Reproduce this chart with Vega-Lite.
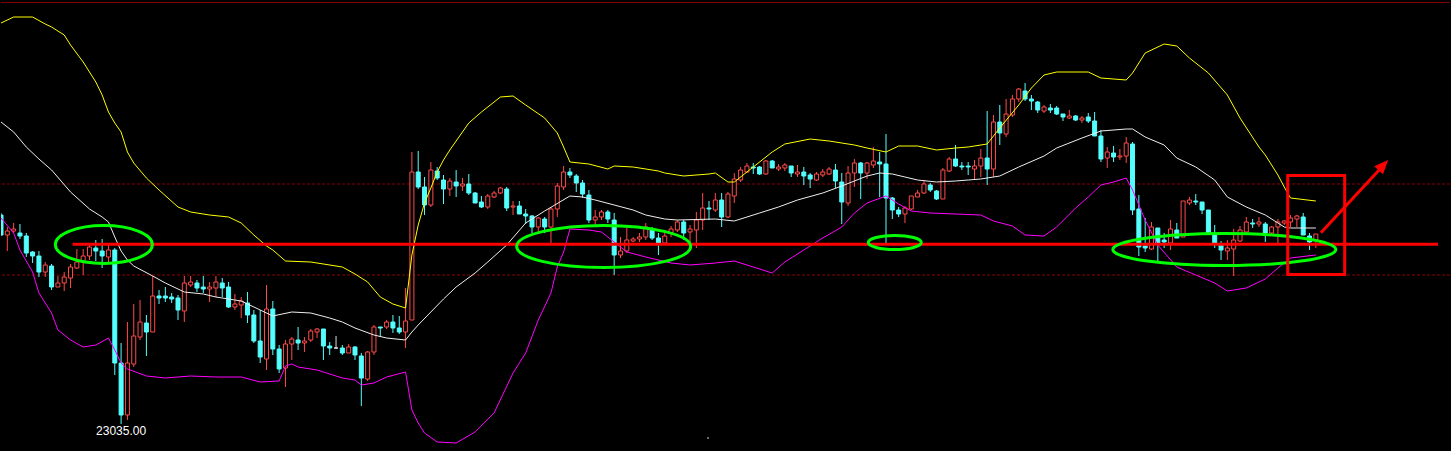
{
"$schema":"https://vega.github.io/schema/vega-lite/v6.json",
"width":1451,"height":451,
"autosize":{"type":"fit","contains":"padding"},
"padding":0,
"background":"#000000",
"config":{"view":{"stroke":null},"axis":{"disable":true},"scale":{"continuousPadding":0}},
"datasets":{
"candles":[
{"i":0,"o":23244,"h":23246,"l":23223,"c":23224,"d":"down"},
{"i":1,"o":23224,"h":23232,"l":23208,"c":23228,"d":"up"},
{"i":2,"o":23228,"h":23236,"l":23226,"c":23230,"d":"up"},
{"i":3,"o":23226,"h":23235,"l":23220,"c":23223,"d":"down"},
{"i":4,"o":23223,"h":23226,"l":23202,"c":23206,"d":"down"},
{"i":5,"o":23207,"h":23208,"l":23196,"c":23203,"d":"down"},
{"i":6,"o":23203,"h":23208,"l":23182,"c":23187,"d":"down"},
{"i":7,"o":23187,"h":23197,"l":23182,"c":23194,"d":"up"},
{"i":8,"o":23193,"h":23195,"l":23169,"c":23172,"d":"down"},
{"i":9,"o":23172,"h":23183,"l":23172,"c":23176,"d":"up"},
{"i":10,"o":23176,"h":23187,"l":23168,"c":23182,"d":"up"},
{"i":11,"o":23181,"h":23195,"l":23171,"c":23192,"d":"up"},
{"i":12,"o":23191,"h":23210,"l":23190,"c":23197,"d":"up"},
{"i":13,"o":23197,"h":23210,"l":23184,"c":23203,"d":"up"},
{"i":14,"o":23203,"h":23215,"l":23199,"c":23212,"d":"up"},
{"i":15,"o":23211,"h":23219,"l":23198,"c":23208,"d":"down"},
{"i":16,"o":23208,"h":23220,"l":23191,"c":23203,"d":"down"},
{"i":17,"o":23202,"h":23214,"l":23196,"c":23209,"d":"up"},
{"i":18,"o":23209,"h":23211,"l":23084,"c":23096,"d":"down"},
{"i":19,"o":23096,"h":23116,"l":23035,"c":23044,"d":"down"},
{"i":20,"o":23044,"h":23137,"l":23039,"c":23096,"d":"up"},
{"i":21,"o":23095,"h":23155,"l":23092,"c":23123,"d":"up"},
{"i":22,"o":23122,"h":23159,"l":23119,"c":23137,"d":"up"},
{"i":23,"o":23136,"h":23144,"l":23103,"c":23127,"d":"down"},
{"i":24,"o":23127,"h":23183,"l":23127,"c":23163,"d":"up"},
{"i":25,"o":23163,"h":23169,"l":23155,"c":23161,"d":"down"},
{"i":26,"o":23163,"h":23172,"l":23157,"c":23161,"d":"down"},
{"i":27,"o":23162,"h":23166,"l":23156,"c":23160,"d":"down"},
{"i":28,"o":23161,"h":23164,"l":23139,"c":23149,"d":"down"},
{"i":29,"o":23148,"h":23183,"l":23137,"c":23176,"d":"up"},
{"i":30,"o":23174,"h":23183,"l":23172,"c":23177,"d":"up"},
{"i":31,"o":23176,"h":23179,"l":23167,"c":23171,"d":"down"},
{"i":32,"o":23172,"h":23183,"l":23166,"c":23170,"d":"down"},
{"i":33,"o":23170,"h":23177,"l":23157,"c":23172,"d":"up"},
{"i":34,"o":23171,"h":23183,"l":23162,"c":23177,"d":"up"},
{"i":35,"o":23176,"h":23181,"l":23162,"c":23171,"d":"down"},
{"i":36,"o":23172,"h":23177,"l":23151,"c":23152,"d":"down"},
{"i":37,"o":23152,"h":23165,"l":23149,"c":23155,"d":"up"},
{"i":38,"o":23154,"h":23162,"l":23141,"c":23158,"d":"up"},
{"i":39,"o":23156,"h":23167,"l":23136,"c":23144,"d":"down"},
{"i":40,"o":23144,"h":23149,"l":23116,"c":23118,"d":"down"},
{"i":41,"o":23118,"h":23149,"l":23096,"c":23102,"d":"down"},
{"i":42,"o":23100,"h":23174,"l":23089,"c":23150,"d":"up"},
{"i":43,"o":23150,"h":23158,"l":23104,"c":23110,"d":"down"},
{"i":44,"o":23110,"h":23114,"l":23086,"c":23090,"d":"down"},
{"i":45,"o":23091,"h":23119,"l":23072,"c":23115,"d":"up"},
{"i":46,"o":23115,"h":23122,"l":23099,"c":23120,"d":"up"},
{"i":47,"o":23119,"h":23132,"l":23109,"c":23116,"d":"down"},
{"i":48,"o":23116,"h":23122,"l":23107,"c":23118,"d":"up"},
{"i":49,"o":23119,"h":23130,"l":23117,"c":23128,"d":"up"},
{"i":50,"o":23127,"h":23131,"l":23121,"c":23130,"d":"up"},
{"i":51,"o":23130,"h":23130,"l":23099,"c":23113,"d":"down"},
{"i":52,"o":23113,"h":23117,"l":23104,"c":23111,"d":"down"},
{"i":53,"o":23111,"h":23123,"l":23110,"c":23111,"d":"flat"},
{"i":54,"o":23111,"h":23114,"l":23104,"c":23106,"d":"down"},
{"i":55,"o":23106,"h":23115,"l":23106,"c":23112,"d":"up"},
{"i":56,"o":23112,"h":23113,"l":23099,"c":23104,"d":"down"},
{"i":57,"o":23103,"h":23106,"l":23053,"c":23081,"d":"down"},
{"i":58,"o":23080,"h":23108,"l":23078,"c":23107,"d":"up"},
{"i":59,"o":23107,"h":23134,"l":23104,"c":23132,"d":"up"},
{"i":60,"o":23132,"h":23132,"l":23122,"c":23131,"d":"down"},
{"i":61,"o":23132,"h":23139,"l":23130,"c":23137,"d":"up"},
{"i":62,"o":23137,"h":23144,"l":23126,"c":23131,"d":"down"},
{"i":63,"o":23131,"h":23143,"l":23125,"c":23127,"d":"down"},
{"i":64,"o":23127,"h":23171,"l":23111,"c":23138,"d":"up"},
{"i":65,"o":23139,"h":23307,"l":23139,"c":23287,"d":"up"},
{"i":66,"o":23287,"h":23308,"l":23270,"c":23272,"d":"down"},
{"i":67,"o":23272,"h":23282,"l":23244,"c":23254,"d":"down"},
{"i":68,"o":23254,"h":23297,"l":23252,"c":23289,"d":"up"},
{"i":69,"o":23288,"h":23292,"l":23279,"c":23281,"d":"down"},
{"i":70,"o":23279,"h":23284,"l":23255,"c":23270,"d":"down"},
{"i":71,"o":23270,"h":23281,"l":23263,"c":23278,"d":"up"},
{"i":72,"o":23277,"h":23289,"l":23262,"c":23273,"d":"down"},
{"i":73,"o":23273,"h":23281,"l":23268,"c":23275,"d":"up"},
{"i":74,"o":23275,"h":23285,"l":23264,"c":23266,"d":"down"},
{"i":75,"o":23266,"h":23267,"l":23256,"c":23256,"d":"down"},
{"i":76,"o":23257,"h":23263,"l":23251,"c":23252,"d":"down"},
{"i":77,"o":23252,"h":23265,"l":23250,"c":23263,"d":"up"},
{"i":78,"o":23262,"h":23268,"l":23261,"c":23266,"d":"up"},
{"i":79,"o":23266,"h":23272,"l":23265,"c":23271,"d":"up"},
{"i":80,"o":23270,"h":23272,"l":23248,"c":23251,"d":"down"},
{"i":81,"o":23252,"h":23258,"l":23244,"c":23253,"d":"up"},
{"i":82,"o":23253,"h":23258,"l":23245,"c":23245,"d":"down"},
{"i":83,"o":23245,"h":23250,"l":23235,"c":23243,"d":"down"},
{"i":84,"o":23243,"h":23244,"l":23226,"c":23232,"d":"down"},
{"i":85,"o":23232,"h":23242,"l":23227,"c":23241,"d":"up"},
{"i":86,"o":23240,"h":23242,"l":23226,"c":23232,"d":"down"},
{"i":87,"o":23232,"h":23252,"l":23216,"c":23250,"d":"up"},
{"i":88,"o":23250,"h":23276,"l":23242,"c":23273,"d":"up"},
{"i":89,"o":23272,"h":23293,"l":23269,"c":23287,"d":"up"},
{"i":90,"o":23287,"h":23291,"l":23281,"c":23284,"d":"down"},
{"i":91,"o":23283,"h":23285,"l":23267,"c":23276,"d":"down"},
{"i":92,"o":23276,"h":23279,"l":23261,"c":23265,"d":"down"},
{"i":93,"o":23264,"h":23269,"l":23236,"c":23239,"d":"down"},
{"i":94,"o":23239,"h":23249,"l":23232,"c":23242,"d":"up"},
{"i":95,"o":23242,"h":23249,"l":23239,"c":23247,"d":"up"},
{"i":96,"o":23247,"h":23249,"l":23236,"c":23240,"d":"down"},
{"i":97,"o":23239,"h":23246,"l":23184,"c":23204,"d":"down"},
{"i":98,"o":23204,"h":23222,"l":23201,"c":23208,"d":"up"},
{"i":99,"o":23208,"h":23231,"l":23206,"c":23219,"d":"up"},
{"i":100,"o":23218,"h":23222,"l":23217,"c":23220,"d":"up"},
{"i":101,"o":23220,"h":23226,"l":23217,"c":23222,"d":"up"},
{"i":102,"o":23222,"h":23236,"l":23219,"c":23232,"d":"up"},
{"i":103,"o":23230,"h":23232,"l":23219,"c":23221,"d":"down"},
{"i":104,"o":23221,"h":23226,"l":23204,"c":23216,"d":"down"},
{"i":105,"o":23216,"h":23229,"l":23215,"c":23223,"d":"up"},
{"i":106,"o":23226,"h":23233,"l":23222,"c":23230,"d":"up"},
{"i":107,"o":23229,"h":23239,"l":23227,"c":23237,"d":"up"},
{"i":108,"o":23237,"h":23239,"l":23219,"c":23226,"d":"down"},
{"i":109,"o":23227,"h":23234,"l":23216,"c":23230,"d":"up"},
{"i":110,"o":23229,"h":23247,"l":23211,"c":23239,"d":"up"},
{"i":111,"o":23239,"h":23266,"l":23229,"c":23251,"d":"up"},
{"i":112,"o":23251,"h":23258,"l":23239,"c":23250,"d":"down"},
{"i":113,"o":23249,"h":23266,"l":23247,"c":23259,"d":"up"},
{"i":114,"o":23259,"h":23266,"l":23232,"c":23242,"d":"down"},
{"i":115,"o":23242,"h":23267,"l":23241,"c":23265,"d":"up"},
{"i":116,"o":23263,"h":23286,"l":23256,"c":23280,"d":"up"},
{"i":117,"o":23279,"h":23292,"l":23277,"c":23289,"d":"up"},
{"i":118,"o":23287,"h":23296,"l":23286,"c":23293,"d":"up"},
{"i":119,"o":23292,"h":23296,"l":23285,"c":23291,"d":"down"},
{"i":120,"o":23292,"h":23293,"l":23284,"c":23285,"d":"down"},
{"i":121,"o":23285,"h":23299,"l":23284,"c":23298,"d":"up"},
{"i":122,"o":23298,"h":23299,"l":23291,"c":23291,"d":"down"},
{"i":123,"o":23290,"h":23295,"l":23288,"c":23292,"d":"up"},
{"i":124,"o":23291,"h":23296,"l":23288,"c":23294,"d":"up"},
{"i":125,"o":23293,"h":23293,"l":23282,"c":23286,"d":"down"},
{"i":126,"o":23285,"h":23294,"l":23282,"c":23287,"d":"up"},
{"i":127,"o":23287,"h":23292,"l":23274,"c":23283,"d":"down"},
{"i":128,"o":23284,"h":23286,"l":23271,"c":23280,"d":"down"},
{"i":129,"o":23279,"h":23287,"l":23278,"c":23285,"d":"up"},
{"i":130,"o":23284,"h":23290,"l":23282,"c":23287,"d":"up"},
{"i":131,"o":23285,"h":23292,"l":23284,"c":23290,"d":"up"},
{"i":132,"o":23289,"h":23295,"l":23271,"c":23278,"d":"down"},
{"i":133,"o":23277,"h":23286,"l":23235,"c":23257,"d":"down"},
{"i":134,"o":23256,"h":23293,"l":23253,"c":23286,"d":"up"},
{"i":135,"o":23286,"h":23300,"l":23272,"c":23296,"d":"up"},
{"i":136,"o":23296,"h":23297,"l":23260,"c":23286,"d":"down"},
{"i":137,"o":23286,"h":23297,"l":23280,"c":23296,"d":"up"},
{"i":138,"o":23294,"h":23312,"l":23291,"c":23298,"d":"up"},
{"i":139,"o":23297,"h":23307,"l":23262,"c":23295,"d":"down"},
{"i":140,"o":23295,"h":23325,"l":23216,"c":23261,"d":"down"},
{"i":141,"o":23261,"h":23262,"l":23240,"c":23249,"d":"down"},
{"i":142,"o":23249,"h":23252,"l":23242,"c":23245,"d":"down"},
{"i":143,"o":23245,"h":23253,"l":23236,"c":23251,"d":"up"},
{"i":144,"o":23250,"h":23263,"l":23249,"c":23263,"d":"up"},
{"i":145,"o":23262,"h":23269,"l":23262,"c":23266,"d":"up"},
{"i":146,"o":23266,"h":23279,"l":23265,"c":23275,"d":"up"},
{"i":147,"o":23274,"h":23276,"l":23267,"c":23269,"d":"down"},
{"i":148,"o":23268,"h":23269,"l":23259,"c":23260,"d":"down"},
{"i":149,"o":23260,"h":23291,"l":23260,"c":23289,"d":"up"},
{"i":150,"o":23288,"h":23302,"l":23287,"c":23300,"d":"up"},
{"i":151,"o":23300,"h":23314,"l":23292,"c":23293,"d":"down"},
{"i":152,"o":23293,"h":23297,"l":23289,"c":23292,"d":"down"},
{"i":153,"o":23293,"h":23297,"l":23284,"c":23292,"d":"down"},
{"i":154,"o":23290,"h":23299,"l":23279,"c":23293,"d":"up"},
{"i":155,"o":23293,"h":23310,"l":23282,"c":23301,"d":"up"},
{"i":156,"o":23301,"h":23348,"l":23274,"c":23290,"d":"down"},
{"i":157,"o":23290,"h":23344,"l":23282,"c":23337,"d":"up"},
{"i":158,"o":23337,"h":23354,"l":23314,"c":23326,"d":"down"},
{"i":159,"o":23325,"h":23360,"l":23322,"c":23345,"d":"up"},
{"i":160,"o":23344,"h":23364,"l":23342,"c":23360,"d":"up"},
{"i":161,"o":23360,"h":23371,"l":23357,"c":23370,"d":"up"},
{"i":162,"o":23368,"h":23376,"l":23358,"c":23360,"d":"down"},
{"i":163,"o":23360,"h":23364,"l":23349,"c":23358,"d":"down"},
{"i":164,"o":23357,"h":23358,"l":23346,"c":23349,"d":"down"},
{"i":165,"o":23348,"h":23354,"l":23346,"c":23352,"d":"up"},
{"i":166,"o":23351,"h":23355,"l":23346,"c":23349,"d":"down"},
{"i":167,"o":23351,"h":23353,"l":23344,"c":23345,"d":"down"},
{"i":168,"o":23345,"h":23345,"l":23338,"c":23342,"d":"down"},
{"i":169,"o":23341,"h":23349,"l":23340,"c":23343,"d":"up"},
{"i":170,"o":23343,"h":23344,"l":23338,"c":23339,"d":"down"},
{"i":171,"o":23339,"h":23343,"l":23336,"c":23341,"d":"up"},
{"i":172,"o":23342,"h":23346,"l":23336,"c":23338,"d":"down"},
{"i":173,"o":23338,"h":23347,"l":23323,"c":23323,"d":"down"},
{"i":174,"o":23323,"h":23329,"l":23297,"c":23300,"d":"down"},
{"i":175,"o":23301,"h":23312,"l":23291,"c":23307,"d":"up"},
{"i":176,"o":23306,"h":23313,"l":23297,"c":23302,"d":"down"},
{"i":177,"o":23302,"h":23310,"l":23299,"c":23303,"d":"up"},
{"i":178,"o":23303,"h":23322,"l":23296,"c":23316,"d":"up"},
{"i":179,"o":23315,"h":23317,"l":23244,"c":23249,"d":"down"},
{"i":180,"o":23250,"h":23264,"l":23203,"c":23212,"d":"down"},
{"i":181,"o":23213,"h":23241,"l":23207,"c":23211,"d":"down"},
{"i":182,"o":23210,"h":23237,"l":23209,"c":23232,"d":"up"},
{"i":183,"o":23231,"h":23231,"l":23197,"c":23216,"d":"down"},
{"i":184,"o":23219,"h":23226,"l":23211,"c":23217,"d":"down"},
{"i":185,"o":23216,"h":23239,"l":23209,"c":23230,"d":"up"},
{"i":186,"o":23229,"h":23236,"l":23221,"c":23221,"d":"down"},
{"i":187,"o":23222,"h":23258,"l":23222,"c":23258,"d":"up"},
{"i":188,"o":23256,"h":23262,"l":23254,"c":23259,"d":"up"},
{"i":189,"o":23258,"h":23265,"l":23254,"c":23257,"d":"down"},
{"i":190,"o":23257,"h":23257,"l":23245,"c":23249,"d":"down"},
{"i":191,"o":23249,"h":23249,"l":23224,"c":23225,"d":"down"},
{"i":192,"o":23225,"h":23234,"l":23211,"c":23216,"d":"down"},
{"i":193,"o":23214,"h":23218,"l":23199,"c":23209,"d":"down"},
{"i":194,"o":23208,"h":23219,"l":23199,"c":23211,"d":"up"},
{"i":195,"o":23210,"h":23230,"l":23183,"c":23219,"d":"up"},
{"i":196,"o":23218,"h":23233,"l":23217,"c":23229,"d":"up"},
{"i":197,"o":23227,"h":23242,"l":23226,"c":23237,"d":"up"},
{"i":198,"o":23236,"h":23240,"l":23231,"c":23235,"d":"down"},
{"i":199,"o":23235,"h":23242,"l":23232,"c":23237,"d":"up"},
{"i":200,"o":23235,"h":23237,"l":23217,"c":23226,"d":"down"},
{"i":201,"o":23226,"h":23233,"l":23225,"c":23232,"d":"up"},
{"i":202,"o":23232,"h":23240,"l":23216,"c":23237,"d":"up"},
{"i":203,"o":23236,"h":23239,"l":23234,"c":23238,"d":"up"},
{"i":204,"o":23237,"h":23244,"l":23232,"c":23241,"d":"up"},
{"i":205,"o":23240,"h":23244,"l":23232,"c":23243,"d":"up"},
{"i":206,"o":23242,"h":23246,"l":23224,"c":23224,"d":"down"},
{"i":207,"o":23223,"h":23226,"l":23209,"c":23217,"d":"down"},
{"i":208,"o":23219,"h":23225,"l":23211,"c":23225,"d":"up"}
],
"bands":[
{"i":0,"b":"upper","v":23436},{"i":2,"b":"upper","v":23442},{"i":5,"b":"upper","v":23442},{"i":7,"b":"upper","v":23435},{"i":8,"b":"upper","v":23432},{"i":10,"b":"upper","v":23424},{"i":11,"b":"upper","v":23414},{"i":13,"b":"upper","v":23397},{"i":15,"b":"upper","v":23377},{"i":16,"b":"upper","v":23364},{"i":17,"b":"upper","v":23347},{"i":18,"b":"upper","v":23336},{"i":19,"b":"upper","v":23327},{"i":20,"b":"upper","v":23307},{"i":21,"b":"upper","v":23296},{"i":23,"b":"upper","v":23281},{"i":25,"b":"upper","v":23269},{"i":28,"b":"upper","v":23252},{"i":30,"b":"upper","v":23247},{"i":33,"b":"upper","v":23244},{"i":36,"b":"upper","v":23242},{"i":38,"b":"upper","v":23236},{"i":40,"b":"upper","v":23224},{"i":42,"b":"upper","v":23213},{"i":43,"b":"upper","v":23209},{"i":45,"b":"upper","v":23198},{"i":49,"b":"upper","v":23197},{"i":54,"b":"upper","v":23192},{"i":56,"b":"upper","v":23185},{"i":58,"b":"upper","v":23177},{"i":60,"b":"upper","v":23162},{"i":62,"b":"upper","v":23155},{"i":64,"b":"upper","v":23151},{"i":65,"b":"upper","v":23204},{"i":66,"b":"upper","v":23234},{"i":67,"b":"upper","v":23256},{"i":68,"b":"upper","v":23271},{"i":69,"b":"upper","v":23287},{"i":70,"b":"upper","v":23299},{"i":71,"b":"upper","v":23309},{"i":74,"b":"upper","v":23336},{"i":76,"b":"upper","v":23347},{"i":79,"b":"upper","v":23362},{"i":81,"b":"upper","v":23363},{"i":83,"b":"upper","v":23354},{"i":86,"b":"upper","v":23341},{"i":88,"b":"upper","v":23326},{"i":89,"b":"upper","v":23312},{"i":90,"b":"upper","v":23297},{"i":93,"b":"upper","v":23295},{"i":96,"b":"upper","v":23290},{"i":97,"b":"upper","v":23293},{"i":100,"b":"upper","v":23292},{"i":104,"b":"upper","v":23288},{"i":105,"b":"upper","v":23286},{"i":108,"b":"upper","v":23283},{"i":112,"b":"upper","v":23285},{"i":113,"b":"upper","v":23286},{"i":115,"b":"upper","v":23277},{"i":116,"b":"upper","v":23277},{"i":119,"b":"upper","v":23292},{"i":122,"b":"upper","v":23307},{"i":124,"b":"upper","v":23315},{"i":128,"b":"upper","v":23320},{"i":131,"b":"upper","v":23318},{"i":135,"b":"upper","v":23314},{"i":137,"b":"upper","v":23311},{"i":140,"b":"upper","v":23307},{"i":142,"b":"upper","v":23313},{"i":145,"b":"upper","v":23313},{"i":148,"b":"upper","v":23309},{"i":151,"b":"upper","v":23311},{"i":153,"b":"upper","v":23312},{"i":156,"b":"upper","v":23315},{"i":158,"b":"upper","v":23331},{"i":161,"b":"upper","v":23354},{"i":163,"b":"upper","v":23371},{"i":165,"b":"upper","v":23384},{"i":167,"b":"upper","v":23387},{"i":172,"b":"upper","v":23387},{"i":174,"b":"upper","v":23381},{"i":178,"b":"upper","v":23379},{"i":179,"b":"upper","v":23386},{"i":181,"b":"upper","v":23406},{"i":184,"b":"upper","v":23415},{"i":186,"b":"upper","v":23413},{"i":188,"b":"upper","v":23401},{"i":191,"b":"upper","v":23386},{"i":194,"b":"upper","v":23364},{"i":196,"b":"upper","v":23341},{"i":199,"b":"upper","v":23312},{"i":200,"b":"upper","v":23304},{"i":202,"b":"upper","v":23284},{"i":203,"b":"upper","v":23272},{"i":204,"b":"upper","v":23261},{"i":208,"b":"upper","v":23258},
{"i":0,"b":"mid","v":23337},{"i":2,"b":"mid","v":23327},{"i":4,"b":"mid","v":23312},{"i":6,"b":"mid","v":23300},{"i":8,"b":"mid","v":23289},{"i":11,"b":"mid","v":23267},{"i":14,"b":"mid","v":23250},{"i":16,"b":"mid","v":23242},{"i":17,"b":"mid","v":23237},{"i":18,"b":"mid","v":23222},{"i":19,"b":"mid","v":23208},{"i":20,"b":"mid","v":23199},{"i":21,"b":"mid","v":23193},{"i":24,"b":"mid","v":23183},{"i":26,"b":"mid","v":23176},{"i":29,"b":"mid","v":23167},{"i":32,"b":"mid","v":23165},{"i":34,"b":"mid","v":23162},{"i":37,"b":"mid","v":23159},{"i":38,"b":"mid","v":23158},{"i":39,"b":"mid","v":23155},{"i":43,"b":"mid","v":23143},{"i":46,"b":"mid","v":23147},{"i":49,"b":"mid","v":23146},{"i":52,"b":"mid","v":23141},{"i":54,"b":"mid","v":23137},{"i":56,"b":"mid","v":23131},{"i":59,"b":"mid","v":23124},{"i":61,"b":"mid","v":23121},{"i":64,"b":"mid","v":23119},{"i":65,"b":"mid","v":23127},{"i":66,"b":"mid","v":23134},{"i":70,"b":"mid","v":23160},{"i":72,"b":"mid","v":23172},{"i":75,"b":"mid","v":23186},{"i":77,"b":"mid","v":23197},{"i":80,"b":"mid","v":23214},{"i":83,"b":"mid","v":23236},{"i":86,"b":"mid","v":23248},{"i":90,"b":"mid","v":23263},{"i":92,"b":"mid","v":23262},{"i":94,"b":"mid","v":23259},{"i":97,"b":"mid","v":23254},{"i":100,"b":"mid","v":23249},{"i":102,"b":"mid","v":23244},{"i":105,"b":"mid","v":23240},{"i":107,"b":"mid","v":23239},{"i":113,"b":"mid","v":23240},{"i":116,"b":"mid","v":23238},{"i":120,"b":"mid","v":23246},{"i":123,"b":"mid","v":23252},{"i":126,"b":"mid","v":23259},{"i":130,"b":"mid","v":23266},{"i":133,"b":"mid","v":23273},{"i":135,"b":"mid","v":23278},{"i":137,"b":"mid","v":23283},{"i":139,"b":"mid","v":23286},{"i":141,"b":"mid","v":23285},{"i":143,"b":"mid","v":23282},{"i":145,"b":"mid","v":23279},{"i":148,"b":"mid","v":23277},{"i":151,"b":"mid","v":23278},{"i":153,"b":"mid","v":23279},{"i":155,"b":"mid","v":23280},{"i":158,"b":"mid","v":23283},{"i":161,"b":"mid","v":23292},{"i":165,"b":"mid","v":23303},{"i":167,"b":"mid","v":23311},{"i":171,"b":"mid","v":23321},{"i":174,"b":"mid","v":23328},{"i":178,"b":"mid","v":23330},{"i":179,"b":"mid","v":23330},{"i":181,"b":"mid","v":23322},{"i":184,"b":"mid","v":23314},{"i":186,"b":"mid","v":23301},{"i":189,"b":"mid","v":23292},{"i":192,"b":"mid","v":23279},{"i":194,"b":"mid","v":23262},{"i":197,"b":"mid","v":23252},{"i":200,"b":"mid","v":23244},{"i":202,"b":"mid","v":23236},{"i":203,"b":"mid","v":23232},{"i":204,"b":"mid","v":23231},{"i":208,"b":"mid","v":23231},
{"i":0,"b":"lower","v":23241},{"i":2,"b":"lower","v":23226},{"i":3,"b":"lower","v":23209},{"i":5,"b":"lower","v":23187},{"i":6,"b":"lower","v":23166},{"i":8,"b":"lower","v":23146},{"i":9,"b":"lower","v":23129},{"i":11,"b":"lower","v":23119},{"i":13,"b":"lower","v":23112},{"i":15,"b":"lower","v":23114},{"i":17,"b":"lower","v":23121},{"i":18,"b":"lower","v":23109},{"i":19,"b":"lower","v":23096},{"i":20,"b":"lower","v":23090},{"i":23,"b":"lower","v":23083},{"i":26,"b":"lower","v":23081},{"i":30,"b":"lower","v":23083},{"i":34,"b":"lower","v":23082},{"i":38,"b":"lower","v":23082},{"i":41,"b":"lower","v":23077},{"i":44,"b":"lower","v":23078},{"i":45,"b":"lower","v":23093},{"i":46,"b":"lower","v":23095},{"i":47,"b":"lower","v":23092},{"i":50,"b":"lower","v":23089},{"i":54,"b":"lower","v":23081},{"i":56,"b":"lower","v":23079},{"i":57,"b":"lower","v":23074},{"i":59,"b":"lower","v":23076},{"i":61,"b":"lower","v":23082},{"i":64,"b":"lower","v":23087},{"i":65,"b":"lower","v":23049},{"i":66,"b":"lower","v":23036},{"i":67,"b":"lower","v":23026},{"i":69,"b":"lower","v":23017},{"i":72,"b":"lower","v":23016},{"i":75,"b":"lower","v":23027},{"i":78,"b":"lower","v":23046},{"i":81,"b":"lower","v":23086},{"i":83,"b":"lower","v":23106},{"i":85,"b":"lower","v":23139},{"i":87,"b":"lower","v":23166},{"i":88,"b":"lower","v":23192},{"i":89,"b":"lower","v":23207},{"i":90,"b":"lower","v":23230},{"i":93,"b":"lower","v":23229},{"i":95,"b":"lower","v":23227},{"i":96,"b":"lower","v":23222},{"i":99,"b":"lower","v":23207},{"i":102,"b":"lower","v":23202},{"i":106,"b":"lower","v":23196},{"i":109,"b":"lower","v":23194},{"i":113,"b":"lower","v":23196},{"i":116,"b":"lower","v":23198},{"i":119,"b":"lower","v":23192},{"i":122,"b":"lower","v":23186},{"i":124,"b":"lower","v":23197},{"i":127,"b":"lower","v":23209},{"i":130,"b":"lower","v":23221},{"i":133,"b":"lower","v":23232},{"i":135,"b":"lower","v":23246},{"i":137,"b":"lower","v":23256},{"i":140,"b":"lower","v":23263},{"i":142,"b":"lower","v":23255},{"i":144,"b":"lower","v":23248},{"i":147,"b":"lower","v":23246},{"i":151,"b":"lower","v":23245},{"i":155,"b":"lower","v":23244},{"i":157,"b":"lower","v":23238},{"i":160,"b":"lower","v":23233},{"i":162,"b":"lower","v":23224},{"i":165,"b":"lower","v":23223},{"i":167,"b":"lower","v":23232},{"i":170,"b":"lower","v":23251},{"i":172,"b":"lower","v":23262},{"i":174,"b":"lower","v":23274},{"i":176,"b":"lower","v":23277},{"i":178,"b":"lower","v":23281},{"i":179,"b":"lower","v":23269},{"i":181,"b":"lower","v":23239},{"i":183,"b":"lower","v":23214},{"i":186,"b":"lower","v":23192},{"i":189,"b":"lower","v":23184},{"i":192,"b":"lower","v":23176},{"i":194,"b":"lower","v":23168},{"i":197,"b":"lower","v":23171},{"i":200,"b":"lower","v":23180},{"i":202,"b":"lower","v":23191},{"i":203,"b":"lower","v":23196},{"i":204,"b":"lower","v":23201},{"i":208,"b":"lower","v":23204}
],
"guides":[{"name":"upper dotted","p":23275},{"name":"lower dotted","p":23184}],
"ellipses":[{"zone":"A","i":16.27,"p":23214.5},{"zone":"B","i":95.34,"p":23212.5},{"zone":"C","i":141.39,"p":23216.5},{"zone":"D","i":193.52,"p":23209.5}],
"arrow":[{"i":208.8,"p":23226.3},{"i":218.0,"p":23289}]
},
"layer":[
{"data":{"values":[{"p":23456.5}]},"mark":{"type":"rule","color":"#800000","strokeWidth":1},
 "encoding":{"y":{"field":"p","type":"quantitative","axis":null,"scale":{"domain":[23008,23459],"nice":false,"zero":false,"padding":0}}}},
{"data":{"name":"guides"},"mark":{"type":"rule","color":"#8b0000","strokeWidth":1,"strokeDash":[3,2]},
 "encoding":{"y":{"field":"p","type":"quantitative","axis":null,"scale":{"domain":[23008,23459],"nice":false,"zero":false,"padding":0}}}},
{"data":{"name":"candles"},"mark":{"type":"rule","strokeWidth":1,"clip":true},
 "encoding":{
  "x":{"field":"i","type":"quantitative","axis":null,"scale":{"domain":[0,229.22],"nice":false,"zero":false,"padding":0}},
  "y":{"field":"l","type":"quantitative","axis":null,"scale":{"domain":[23008,23459],"nice":false,"zero":false,"padding":0}},
  "y2":{"field":"h"},
  "stroke":{"field":"d","type":"nominal","legend":null,"scale":{"domain":["up","down","flat"],"range":["#ff4a4a","#54ffff","#e0e0e0"]}}}},
{"data":{"name":"candles"},"mark":{"type":"bar","width":4,"strokeWidth":1,"clip":true},
 "encoding":{
  "x":{"field":"i","type":"quantitative","axis":null,"scale":{"domain":[0,229.22],"nice":false,"zero":false,"padding":0}},
  "y":{"field":"o","type":"quantitative","axis":null,"scale":{"domain":[23008,23459],"nice":false,"zero":false,"padding":0}},
  "y2":{"field":"c"},
  "fill":{"field":"d","type":"nominal","legend":null,"scale":{"domain":["up","down","flat"],"range":["#000000","#54ffff","#e0e0e0"]}},
  "stroke":{"field":"d","type":"nominal","legend":null,"scale":{"domain":["up","down","flat"],"range":["#ff4a4a","#54ffff","#e0e0e0"]}}}},
{"data":{"name":"bands"},"mark":{"type":"line","strokeWidth":1,"clip":true},
 "encoding":{
  "x":{"field":"i","type":"quantitative","axis":null,"scale":{"domain":[0,229.22],"nice":false,"zero":false,"padding":0}},
  "y":{"field":"v","type":"quantitative","axis":null,"scale":{"domain":[23008,23459],"nice":false,"zero":false,"padding":0}},
  "detail":{"field":"b"},
  "color":{"field":"b","type":"nominal","legend":null,"scale":{"domain":["upper","mid","lower"],"range":["#ffff00","#eeeeee","#ff00ff"]}}}},
{"data":{"values":[{"a":11.33,"b":227.33,"p":23214.7}]},"mark":{"type":"rule","color":"#ff0000","strokeWidth":3},
 "encoding":{
  "x":{"field":"a","type":"quantitative","axis":null,"scale":{"domain":[0,229.22],"nice":false,"zero":false,"padding":0}},
  "x2":{"field":"b"},
  "y":{"field":"p","type":"quantitative","axis":null,"scale":{"domain":[23008,23459],"nice":false,"zero":false,"padding":0}}}},
{"data":{"name":"ellipses"},"mark":{"type":"point","filled":false,"size":4,"stroke":"#00ff00","strokeWidth":3,"opacity":1},
 "encoding":{
  "x":{"field":"i","type":"quantitative","axis":null,"scale":{"domain":[0,229.22],"nice":false,"zero":false,"padding":0}},
  "y":{"field":"p","type":"quantitative","axis":null,"scale":{"domain":[23008,23459],"nice":false,"zero":false,"padding":0}},
  "shape":{"field":"zone","type":"nominal","legend":null,"scale":{"domain":["A","B","C","D"],"range":[
   "M -48.5 0 A 48.5 19 0 1 1 48.5 0 A 48.5 19 0 1 1 -48.5 0 Z",
   "M -87 0 A 87 21 0 1 1 87 0 A 87 21 0 1 1 -87 0 Z",
   "M -26.5 0 A 26.5 7 0 1 1 26.5 0 A 26.5 7 0 1 1 -26.5 0 Z",
   "M -111.5 0 A 111.5 16 0 1 1 111.5 0 A 111.5 16 0 1 1 -111.5 0 Z"]}}}},
{"data":{"values":[{"a":203.55,"b":212.56,"p1":23184.5,"p2":23283.5}]},"mark":{"type":"rect","fill":"transparent","stroke":"#ff0000","strokeWidth":3},
 "encoding":{
  "x":{"field":"a","type":"quantitative","axis":null,"scale":{"domain":[0,229.22],"nice":false,"zero":false,"padding":0}},
  "x2":{"field":"b"},
  "y":{"field":"p1","type":"quantitative","axis":null,"scale":{"domain":[23008,23459],"nice":false,"zero":false,"padding":0}},
  "y2":{"field":"p2"}}},
{"data":{"name":"arrow"},"mark":{"type":"line","color":"#ff0000","strokeWidth":3},
 "encoding":{
  "x":{"field":"i","type":"quantitative","axis":null,"scale":{"domain":[0,229.22],"nice":false,"zero":false,"padding":0}},
  "y":{"field":"p","type":"quantitative","axis":null,"scale":{"domain":[23008,23459],"nice":false,"zero":false,"padding":0}}}},
{"data":{"values":[{"i":218.47,"p":23292.4}]},"mark":{"type":"point","filled":true,"size":4,"shape":"M 0 -9 L 6 5 L -6 5 Z","color":"#ff0000","opacity":1,"angle":43},
 "encoding":{
  "x":{"field":"i","type":"quantitative","axis":null,"scale":{"domain":[0,229.22],"nice":false,"zero":false,"padding":0}},
  "y":{"field":"p","type":"quantitative","axis":null,"scale":{"domain":[23008,23459],"nice":false,"zero":false,"padding":0}}}},
{"data":{"values":[{"i":19,"p":23035,"label":"23035.00"}]},"mark":{"type":"text","color":"#ffffff","font":"Liberation Sans","fontSize":12,"baseline":"top","align":"center","dy":2},
 "encoding":{
  "x":{"field":"i","type":"quantitative","axis":null,"scale":{"domain":[0,229.22],"nice":false,"zero":false,"padding":0}},
  "y":{"field":"p","type":"quantitative","axis":null,"scale":{"domain":[23008,23459],"nice":false,"zero":false,"padding":0}},
  "text":{"field":"label"}}},
{"data":{"values":[{"i":111.85,"p":23021}]},"mark":{"type":"point","filled":true,"size":4,"color":"#909090","opacity":1},
 "encoding":{
  "x":{"field":"i","type":"quantitative","axis":null,"scale":{"domain":[0,229.22],"nice":false,"zero":false,"padding":0}},
  "y":{"field":"p","type":"quantitative","axis":null,"scale":{"domain":[23008,23459],"nice":false,"zero":false,"padding":0}}}}
]
}
